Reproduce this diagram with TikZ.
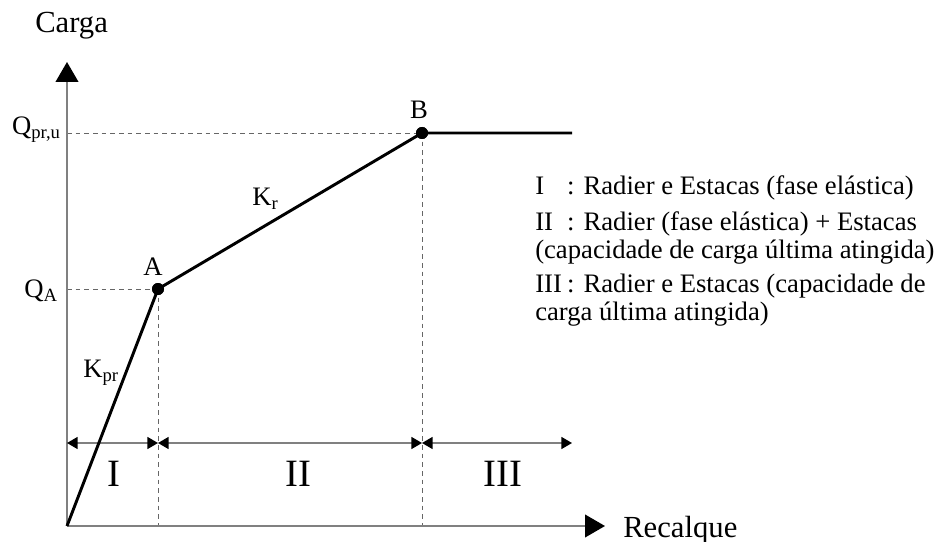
\documentclass[tikz,border=0pt]{standalone}
\usepackage{fontspec}
\setmainfont{Liberation Serif}
\usepackage{tikz}
\usetikzlibrary{arrows.meta,positioning}

\begin{document}
\begin{tikzpicture}[
                x=0.75pt,y=-0.75pt,
                axis/.style={draw=gray,line width=1.5pt},
                guide/.style={draw=gray!80!black,line width=0.7pt,dash pattern=on 3.5pt off 3pt},
                curve/.style={draw=black,line width=2.2pt},
                dot/.style={circle,fill=black,inner sep=0pt,minimum size=9pt},
                zone/.style={draw=gray,line width=1.2pt,{Triangle[length=8pt,width=9pt,color=black]}-{Triangle[length=8pt,width=9pt,color=black]}},
                lbl/.style={inner sep=0pt,font=\fontsize{20}{24}\selectfont},
                title/.style={inner sep=0pt,font=\fontsize{23}{27}\selectfont},
                roman/.style={inner sep=0pt,font=\fontsize{29}{33}\selectfont},
            ]
                \useasboundingbox (0,0) rectangle (936,542);

                \coordinate (O) at (67,526);
                \coordinate (ytip) at (67,62);
                \coordinate (xtip) at (605,526);
                \node[dot] (A) at (158,289) { };
                \node[dot] (B) at (422,133) { };
                \coordinate (Bend) at (572,133);

                \coordinate (r0) at (67,443);
                \coordinate (rA) at (158,443);
                \coordinate (rB) at (422,443);
                \coordinate (r3) at (572,443);

% guide lines to the axes
                \draw[guide] (O |- A) -- (A.center);
                \draw[guide] (O |- B) -- (B.center);
                \draw[guide] (A.center) -- (A |- O);
                \draw[guide] (B.center) -- (B |- O);

                \draw[axis,-{Triangle[length=15pt,width=17pt,color=black]}] (O) -- (ytip);
                \draw[axis,-{Triangle[length=15pt,width=17pt,color=black]}] (O) -- (xtip);

                \draw[zone] (r0) -- (rA);
                \draw[zone] (rA) -- (rB);
                \draw[zone] (rB) -- (r3);

                \draw[curve] (O) -- (A.center) -- (B.center) -- (Bend);
                \node[dot] at (A) { };
                \node[dot] at (B) { };

                \node[title,anchor=base west] (carga) at (35,33) {Carga};
                \node[title,anchor=base west] (recalque) at (623,537) {Recalque};
                \node[lbl,anchor=base east] (qpru) at (61,134) {Q\textsubscript{pr,u}};
                \node[lbl,anchor=base east] (qa) at (58,297) {Q\textsubscript{A}};
                \node[lbl,anchor=base] (la) at (153,275) {A};
                \node[lbl,anchor=base] (lb) at (419,118) {B};
                \node[lbl,anchor=base west] (kr) at (252,205) {K\textsubscript{r}};
                \node[lbl,anchor=base west] (kpr) at (83,377) {K\textsubscript{pr}};

                \node[roman,anchor=base] (z1) at (114,486) {I};
                \node[roman,anchor=base] (z2) at (298,486) {II};
                \node[roman,anchor=base] (z3) at (503,486) {III};

                \node[lbl,anchor=base west] (l1) at (535,195) {\makebox[1.2em][l]{I}: Radier e Estacas (fase elástica)};
                \node[lbl,anchor=base west] (l2) at (535,230) {\makebox[1.2em][l]{II}: Radier (fase elástica) + Estacas};
                \node[lbl,anchor=base west] (l3) at (535,258) {(capacidade de carga última atingida)};
                \node[lbl,anchor=base west] (l4) at (535,292) {\makebox[1.2em][l]{III}: Radier e Estacas (capacidade de};
                \node[lbl,anchor=base west] (l5) at (535,320) {carga última atingida)};
            \end{tikzpicture}
\end{document}
